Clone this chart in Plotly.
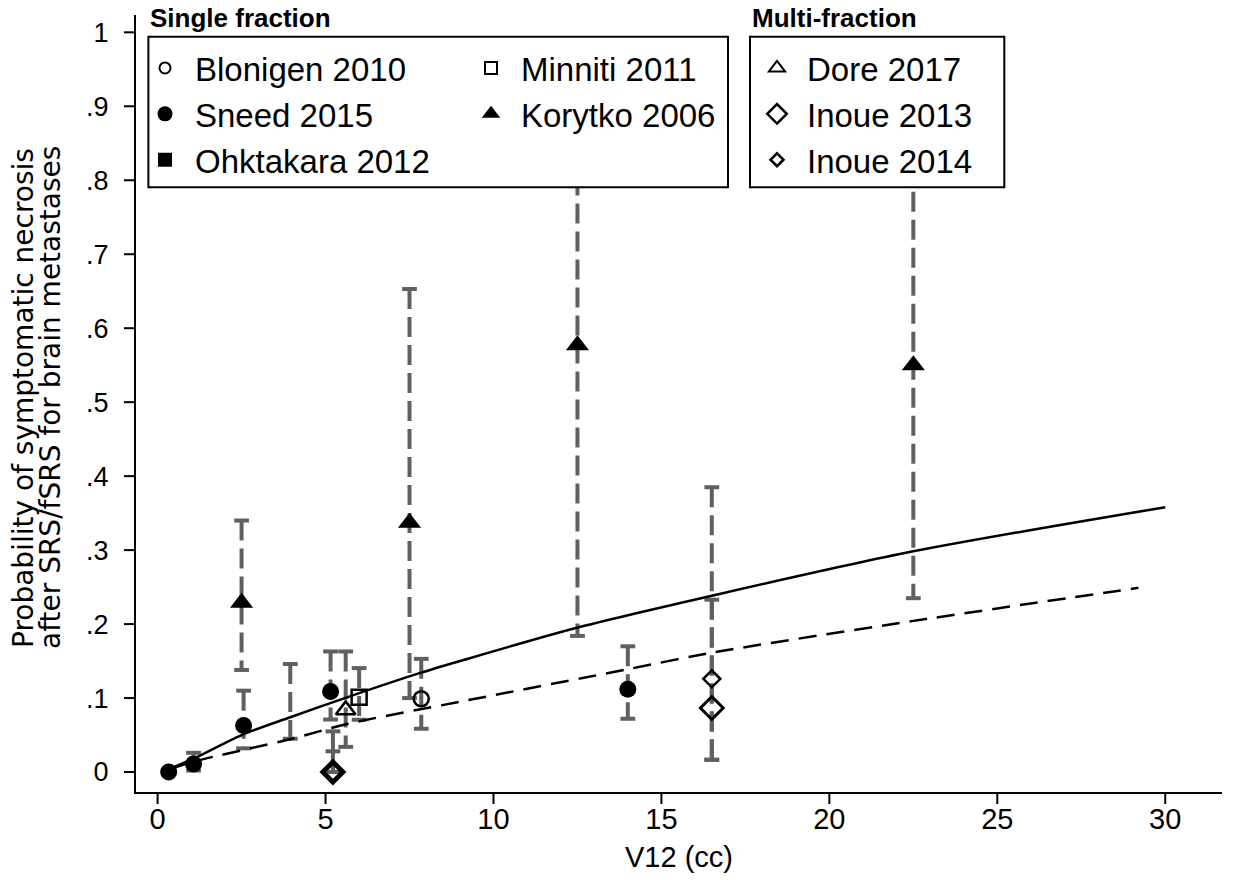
import plotly.graph_objects as go

# ---------------- data ----------------
sneed_x = [0.33, 1.07, 2.56, 5.15, 14.0]
sneed_y = [0.0, 0.011, 0.063, 0.109, 0.112]
sneed_lo = [None, 0.002, 0.032, 0.071, 0.072]
sneed_hi = [None, 0.026, 0.110, 0.163, 0.170]

blonigen_x = [7.85]
blonigen_y = [0.099]
blonigen_lo = [0.0585]
blonigen_hi = [0.153]

ohktakara_x = [3.95]
ohktakara_lo = [0.045]
ohktakara_hi = [0.146]

minniti_x = [6.0]
minniti_y = [0.101]
minniti_lo = [0.0707]
minniti_hi = [0.1405]

korytko_x = [2.5, 7.5, 12.5, 22.5]
korytko_y = [0.229, 0.337, 0.577, 0.550]
korytko_lo = [0.138, 0.100, 0.184, 0.235]
korytko_hi = [0.340, 0.653, 0.92, 0.86]

dore_x = [5.6]
dore_y = [0.084]
dore_lo = [0.034]
dore_hi = [0.163]

inoue13_x = [5.22, 16.5]
inoue13_y = [0.0, 0.0865]
inoue13_lo = [0.0, 0.0166]
inoue13_hi = [0.028, 0.233]

inoue14_x = [5.22, 16.5]
inoue14_y = [0.0, 0.126]
inoue14_lo = [0.0, 0.0166]
inoue14_hi = [0.055, 0.385]

# fitted curves
fit1_x = [0.33, 1.07, 2.5, 3.95, 5.64, 7.82, 9.0, 12.48, 16.47, 22.46, 30.0]
fit1_y = [0.004, 0.018, 0.050, 0.074, 0.101, 0.134, 0.150, 0.195, 0.238, 0.298, 0.358]
fit2_x = [0.33, 1.07, 4.0, 5.64, 9.0, 14.0, 16.47, 22.46, 29.2]
fit2_y = [0.003, 0.014, 0.045, 0.065, 0.095, 0.139, 0.161, 0.204, 0.249]

x_ticks = [0, 5, 10, 15, 20, 25, 30]
y_ticks = [0, 0.1, 0.2, 0.3, 0.4, 0.5, 0.6, 0.7, 0.8, 0.9, 1.0]
y_ticktext = ["0", ".1", ".2", ".3", ".4", ".5", ".6", ".7", ".8", ".9", "1"]

# ---------------- styling ----------------
FONT = "Liberation Sans, Arial, Helvetica, sans-serif"
BAR_COLOR = "#606060"
CAP_HW = 0.22
TICK_LEN = 12

all_bars = [
    (sneed_x, sneed_lo, sneed_hi),
    (blonigen_x, blonigen_lo, blonigen_hi),
    (ohktakara_x, ohktakara_lo, ohktakara_hi),
    (minniti_x, minniti_lo, minniti_hi),
    (korytko_x, korytko_lo, korytko_hi),
    (dore_x, dore_lo, dore_hi),
    (inoue13_x, inoue13_lo, inoue13_hi),
    (inoue14_x, inoue14_lo, inoue14_hi),
]

vx, vy, cx, cy = [], [], [], []
for xs, los, his in all_bars:
    for x, lo, hi in zip(xs, los, his):
        if lo is None or hi is None:
            continue
        vx += [x, x, None]
        vy += [hi, lo, None]
        cx += [x - CAP_HW, x + CAP_HW, None, x - CAP_HW, x + CAP_HW, None]
        cy += [hi, hi, None, lo, lo, None]

fig = go.Figure()

fig.add_trace(go.Scatter(x=vx, y=vy, mode="lines", showlegend=False, hoverinfo="skip",
                         line=dict(color=BAR_COLOR, width=4, dash="20px,8px")))
fig.add_trace(go.Scatter(x=cx, y=cy, mode="lines", showlegend=False, hoverinfo="skip",
                         line=dict(color=BAR_COLOR, width=4)))

fig.add_trace(go.Scatter(x=fit1_x, y=fit1_y, mode="lines", showlegend=False,
                         line=dict(color="black", width=2.5, shape="spline", smoothing=0.8)))
fig.add_trace(go.Scatter(x=fit2_x, y=fit2_y, mode="lines", showlegend=False,
                         line=dict(color="black", width=2.5, shape="spline", smoothing=0.8,
                                   dash="18px,10px")))

def pts(x, y, symbol, size, lw=0):
    fig.add_trace(go.Scatter(x=x, y=y, mode="markers", showlegend=False,
                             marker=dict(symbol=symbol, size=size, color="black",
                                         line=dict(color="black", width=lw))))

pts(sneed_x, sneed_y, "circle", 17)
pts(blonigen_x, blonigen_y, "circle-open", 15, 2.5)
pts(minniti_x, minniti_y, "square-open", 15, 2.5)
pts(korytko_x, korytko_y, "triangle-up", 20)
pts(dore_x, dore_y, "triangle-up-open", 17, 2.5)
pts(inoue13_x, inoue13_y, "diamond-open", 17.5, 3)
pts(inoue14_x, inoue14_y, "diamond-open", 13, 2.5)

def leg(name, symbol, size, legend, lw=0):
    fig.add_trace(go.Scatter(x=[None], y=[None], mode="markers", name=name, legend=legend,
                             marker=dict(symbol=symbol, size=size, color="black",
                                         line=dict(color="black", width=lw))))

leg("Blonigen 2010", "circle-open", 11, "legend", 2)
leg("Sneed 2015", "circle", 15, "legend")
leg("Ohktakara 2012", "square", 14, "legend")
leg("Minniti 2011", "square-open", 12, "legend2", 2)
leg("Korytko 2006", "triangle-up", 16, "legend2")
leg("Dore 2017", "triangle-up-open", 14, "legend3", 2)
leg("Inoue 2013", "diamond-open", 15, "legend3", 2.5)
leg("Inoue 2014", "diamond-open", 10, "legend3", 2.5)

# ---------------- layout ----------------
L, R, T, B = 136, 16, 15, 88
W, H = 1238, 880
pw, ph = W - L - R, H - T - B

def px2x(px):
    return (px - L) / pw

def px2y(py):
    return (H - B - py) / ph

leg_common = dict(bgcolor="rgba(0,0,0,0)", borderwidth=0, orientation="v",
                  xanchor="left", yanchor="top", itemwidth=50,
                  font=dict(family=FONT, size=33, color="black"))

# tick marks drawn as shapes on the axes' own scales (labels spaced separately)
tick_shapes = []
for t in x_ticks:
    tick_shapes.append(dict(type="line", xref="x", yref="paper", x0=t, x1=t,
                            y0=0, y1=-TICK_LEN / ph, line=dict(color="black", width=2)))
for t in y_ticks:
    tick_shapes.append(dict(type="line", xref="paper", yref="y", y0=t, y1=t,
                            x0=0, x1=-TICK_LEN / pw, line=dict(color="black", width=2)))

fig.update_layout(
    template="none",
    width=W, height=H,
    margin=dict(l=L, r=R, t=T, b=B, pad=0, autoexpand=False),
    plot_bgcolor="white", paper_bgcolor="white",
    font=dict(family=FONT, color="black"),
    legend=dict(x=px2x(135), y=px2y(40), **leg_common),
    legend2=dict(x=px2x(461), y=px2y(40), **leg_common),
    legend3=dict(x=px2x(747), y=px2y(40), **leg_common),
    xaxis=dict(range=[-0.643, 31.69], tickvals=x_ticks, showgrid=False, zeroline=False,
               automargin=False,
               showline=True, linecolor="black", linewidth=2,
               ticks="", tickfont=dict(size=29, family=FONT),
               title=dict(text="V12 (cc)", font=dict(size=29, family=FONT), standoff=13)),
    yaxis=dict(range=[-0.027, 1.0234], tickvals=y_ticks, ticktext=y_ticktext,
               showgrid=False, zeroline=False, automargin=False,
               showline=True, linecolor="black", linewidth=2,
               ticks="outside", ticklen=20, tickwidth=2, tickcolor="rgba(0,0,0,0)",
               tickfont=dict(size=27, family=FONT)),
    shapes=tick_shapes + [
        dict(type="rect", xref="paper", yref="paper", layer="above",
             x0=px2x(148.4), x1=px2x(728), y0=px2y(187.3), y1=px2y(36.7),
             line=dict(color="black", width=2), fillcolor="white"),
        dict(type="rect", xref="paper", yref="paper", layer="above",
             x0=px2x(750), x1=px2x(1004.3), y0=px2y(187.3), y1=px2y(36.7),
             line=dict(color="black", width=2), fillcolor="white"),
    ],
    annotations=[
        dict(text="<b>Single fraction</b>", xref="paper", yref="paper",
             x=px2x(148), y=px2y(18), xanchor="left", yanchor="middle", showarrow=False,
             font=dict(family=FONT, size=26, color="black")),
        dict(text="<b>Multi-fraction</b>", xref="paper", yref="paper",
             x=px2x(750), y=px2y(18), xanchor="left", yanchor="middle", showarrow=False,
             font=dict(family=FONT, size=26, color="black")),
        dict(text="Probability of symptomatic necrosis", xref="paper", yref="paper",
             x=px2x(23), y=px2y(398), xanchor="center", yanchor="middle", textangle=-90,
             showarrow=False, font=dict(family="DejaVu Sans, sans-serif", size=28, color="black")),
        dict(text="after SRS/fSRS for brain metastases", xref="paper", yref="paper",
             x=px2x(50), y=px2y(398), xanchor="center", yanchor="middle", textangle=-90,
             showarrow=False, font=dict(family="DejaVu Sans, sans-serif", size=28, color="black")),
    ],
)

fig.write_html("out.html")
